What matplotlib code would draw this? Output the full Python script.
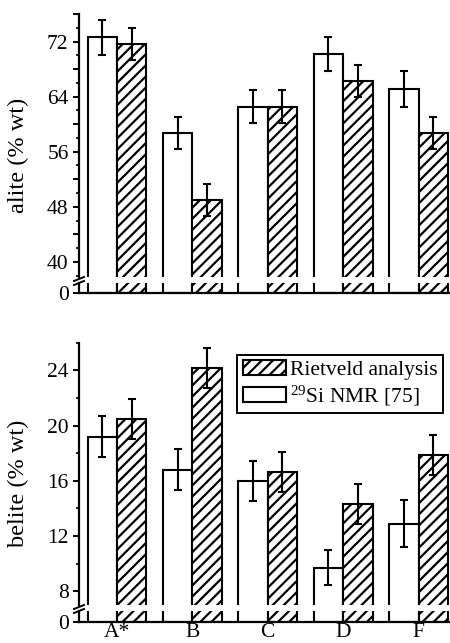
import matplotlib
matplotlib.use("Agg")
import matplotlib.pyplot as plt
from matplotlib.patches import Patch
from matplotlib.lines import Line2D
from matplotlib.ticker import MultipleLocator, FixedLocator

plt.rcParams['font.family'] = ['Liberation Serif', 'DejaVu Serif']
plt.rcParams['mathtext.fontset'] = 'custom'
plt.rcParams['mathtext.rm'] = 'Liberation Serif'
plt.rcParams['hatch.linewidth'] = 1.6

# data
samples = ['A*', 'B', 'C', 'D', 'F']
alite_nmr = [72.6, 58.7, 62.5, 70.2, 65.1]
alite_nmr_err = [2.6, 2.3, 2.4, 2.5, 2.6]
alite_rietveld = [71.6, 49.0, 62.5, 66.3, 58.7]
alite_rietveld_err = [2.3, 2.3, 2.4, 2.3, 2.3]
belite_nmr = [19.2, 16.8, 16.0, 9.7, 12.9]
belite_nmr_err = [1.5, 1.5, 1.45, 1.25, 1.7]
belite_rietveld = [20.5, 24.2, 16.65, 14.3, 17.9]
belite_rietveld_err = [1.45, 1.45, 1.45, 1.45, 1.45]

W, H = 450, 643
fig = plt.figure(figsize=(W / 100, H / 100), dpi=100)

FS = 15.5      # tick / legend text
FS_LAB = 17.5  # axis titles
bw = 0.39
x = list(range(len(samples)))
x_open = [i - bw / 2 for i in x]
x_hatch = [i + bw / 2 for i in x]
XLIM = (-0.503, 4.444)
AX_L, AX_R = 79, 452


def px_axes(top, bottom):
    return fig.add_axes([AX_L / W, 1 - bottom / H, (AX_R - AX_L) / W, (bottom - top) / H])


def style_axis(ax):
    for s in ['top', 'right']:
        ax.spines[s].set_visible(False)
    for s in ['left', 'bottom']:
        ax.spines[s].set_linewidth(1.6)
    ax.tick_params(axis='y', which='major', direction='out', length=4.5, width=1.4,
                   labelsize=FS, pad=3)
    ax.tick_params(axis='y', which='minor', direction='out', length=2.5, width=1.2)
    ax.set_xlim(*XLIM)


def draw_bars(ax, nmr, nmr_err, riet, riet_err, errors=True):
    ax.bar(x_open, nmr, bw, color='white', edgecolor='black', linewidth=1.5, zorder=2)
    ax.bar(x_hatch, riet, bw, color='white', edgecolor='black', linewidth=1.5,
           hatch='///', zorder=2)
    if errors:
        ax.errorbar(x_open, nmr, yerr=nmr_err, fmt='none', ecolor='black',
                    elinewidth=1.5, capsize=3, capthick=1.5, zorder=3)
        ax.errorbar(x_hatch, riet, yerr=riet_err, fmt='none', ecolor='black',
                    elinewidth=1.5, capsize=3, capthick=1.5, zorder=3)


def break_marks(y_px):
    for dy in (0, 4):
        fig.add_artist(Line2D([(AX_L - 5) / W, (AX_L + 5) / W],
                              [1 - (y_px + 2 + dy) / H, 1 - (y_px - 2 + dy) / H],
                              color='black', lw=1.4))


# ---- alite panel
ax1 = px_axes(14, 277)
style_axis(ax1)
ax1.spines['bottom'].set_visible(False)
ax1.set_ylim(37.8, 76)
ax1.yaxis.set_major_locator(MultipleLocator(4))
ax1.yaxis.set_minor_locator(MultipleLocator(2))
ax1.set_yticklabels(['' if t % 8 else str(int(t)) for t in ax1.get_yticks()])
ax1.set_xticks([])
draw_bars(ax1, alite_nmr, alite_nmr_err, alite_rietveld, alite_rietveld_err)

ax1b = px_axes(283, 292.5)
style_axis(ax1b)
ax1b.set_ylim(0, 9.5 / 6.88)
ax1b.yaxis.set_major_locator(FixedLocator([0]))
ax1b.set_xticks([])
draw_bars(ax1b, alite_nmr, alite_nmr_err, alite_rietveld, alite_rietveld_err, errors=False)
break_marks(279)

fig.text(18 / W, 1 - 155 / H, 'alite (% wt)', rotation=90, ha='center', va='center',
         fontsize=FS_LAB)

# ---- belite panel
ax2 = px_axes(342.7, 605)
style_axis(ax2)
ax2.spines['bottom'].set_visible(False)
ax2.set_ylim(7.0, 26)
ax2.yaxis.set_major_locator(MultipleLocator(4))
ax2.yaxis.set_minor_locator(MultipleLocator(2))
ax2.set_xticks([])
draw_bars(ax2, belite_nmr, belite_nmr_err, belite_rietveld, belite_rietveld_err)

ax2b = px_axes(611, 622)
style_axis(ax2b)
ax2b.set_ylim(0, 11 / 13.8)
ax2b.yaxis.set_major_locator(FixedLocator([0]))
ax2b.set_xticks(x)
ax2b.set_xticklabels(samples, fontsize=FS)
ax2b.tick_params(axis='x', length=0, pad=1)
draw_bars(ax2b, belite_nmr, belite_nmr_err, belite_rietveld, belite_rietveld_err, errors=False)
break_marks(607)

fig.text(18 / W, 1 - 483 / H, 'belite (% wt)', rotation=90, ha='center', va='center',
         fontsize=FS_LAB)

handles = [Patch(facecolor='white', edgecolor='black', hatch='///', linewidth=1.5),
           Patch(facecolor='white', edgecolor='black', linewidth=1.5)]
leg = fig.legend(handles, ['Rietveld analysis', r'$\mathregular{^{29}}$Si NMR [75]'],
                 loc='upper right', bbox_to_anchor=(443 / W, 1 - 355 / H),
                 fontsize=FS, frameon=True, fancybox=False, framealpha=1,
                 edgecolor='black', handlelength=2.0, handleheight=0.7,
                 handletextpad=0.2, borderpad=0.25, labelspacing=0.15,
                 borderaxespad=0)
leg.get_frame().set_linewidth(1.4)

fig.savefig('out.png', dpi=100)
